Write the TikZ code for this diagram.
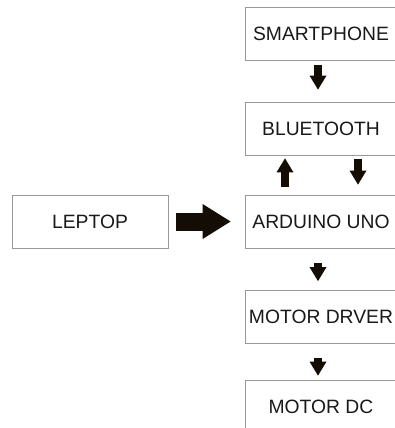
\documentclass[tikz,border=0pt]{standalone}
\usepackage{fontspec}
\setmainfont{Liberation Sans}
\usetikzlibrary{arrows.meta,positioning}

\begin{document}
\begin{tikzpicture}[on grid,
   blok/.style={draw=black!40,line width=0.8pt,text=black!90,
      minimum width=160pt,minimum height=53pt,inner sep=0pt,
      font=\fontsize{19.3}{21}\selectfont},
   panah/.style={draw=black!90!brown,line width=8.5pt,
      -{Triangle[width=17pt,length=14pt,line width=0pt]}},
   panahbesar/.style={draw=black!90!brown,line width=18pt,
      -{Triangle[width=35pt,length=28pt,line width=0pt]}}]
   \useasboundingbox[fill=white] (0,0) rectangle (394pt,-428pt);
   \node[blok] (smart) at (325pt,-34pt) {\hspace*{-8pt}SMARTPHONE};
   \node[blok] (blue) [below=94.5pt of smart] {\hspace*{-8pt}BLUETOOTH};
   \node[blok] (uno) [below=93pt of blue] {\hspace*{-8pt}ARDUINO UNO};
   \node[blok] (drv) [below=95.5pt of uno] {\hspace*{-8pt}MOTOR DRVER};
   \node[blok,minimum height=54pt] (dc) [below=90pt of drv] {\hspace*{-8pt}MOTOR DC};
   \node[blok,minimum width=156pt] (lep) [left=235pt of uno] {LEPTOP};
   % panah
   \draw[panah,shorten <=4pt,shorten >=12pt] ([xshift=-7pt]smart.south) -- ([xshift=-7pt]blue.north);
   \draw[panah,shorten <=8pt,shorten >=3pt] ([xshift=-40pt]uno.north) -- ([xshift=-40pt]blue.south);
   \draw[panah,shorten <=4pt,shorten >=10pt] ([xshift=33pt]blue.south) -- ([xshift=33pt]uno.north);
   \draw[panah,shorten <=15pt,shorten >=9pt] ([xshift=-7pt]uno.south) -- ([xshift=-7pt]drv.north);
   \draw[panah,shorten <=14pt,shorten >=4pt] ([xshift=-7pt]drv.south) -- ([xshift=-7pt]dc.north);
   \draw[panahbesar,shorten <=8pt,shorten >=14pt] (lep.east) -- (uno.west);
\end{tikzpicture}
\end{document}
